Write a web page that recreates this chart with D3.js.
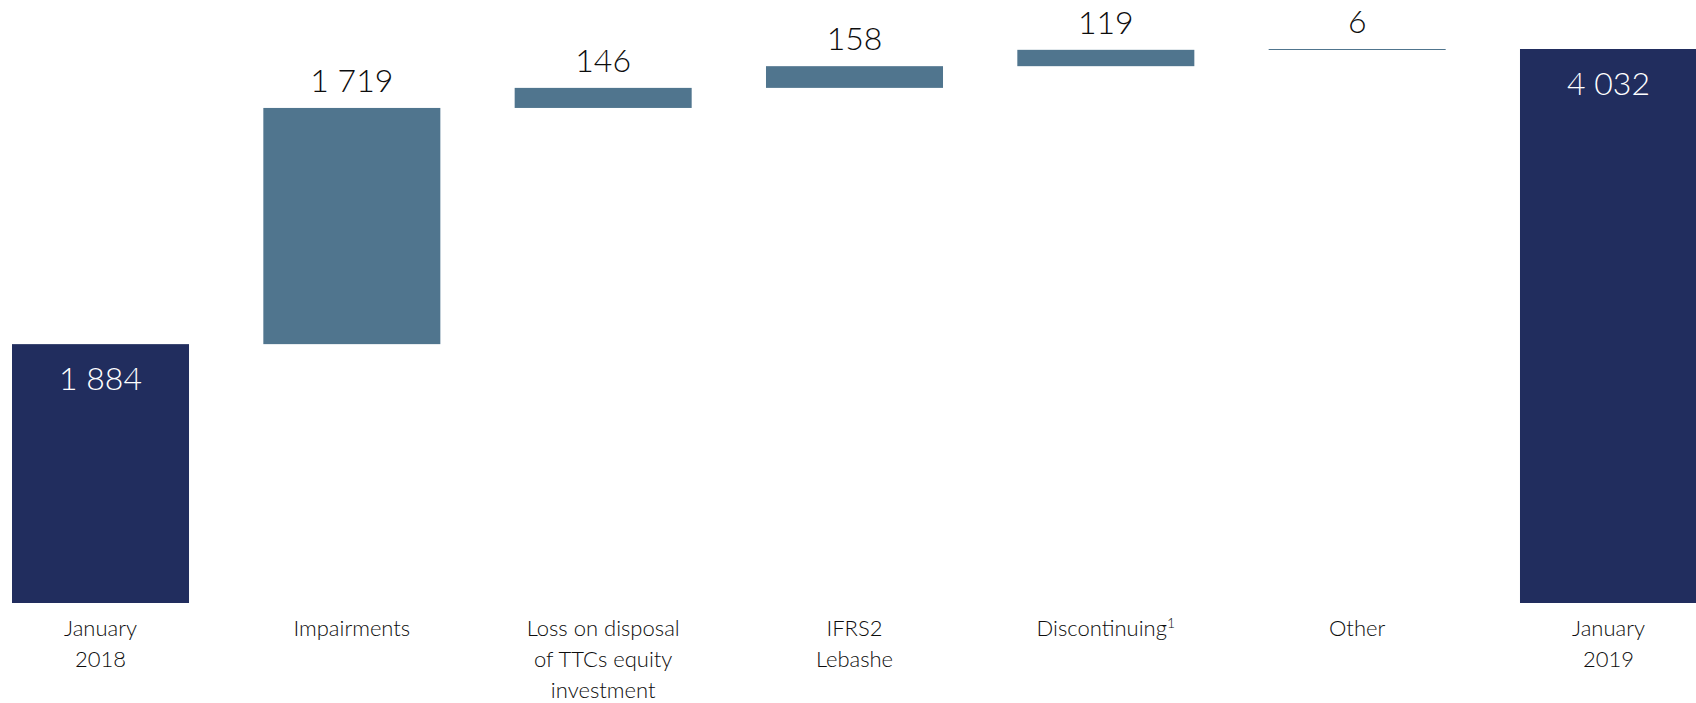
<!DOCTYPE html>
<html>
<head>
<meta charset="utf-8">
<script src="https://cdn.jsdelivr.net/npm/d3@7"></script>
<style>
  html, body { margin: 0; padding: 0; background: #fff; }
  svg { display: block; }
  text { font-family: Lato, "Open Sans", sans-serif; font-weight: 300; }
</style>
</head>
<body>
<svg id="chart" width="1696" height="703"></svg>
<script>
// ---- data ----
const categories = [
  ["January", "2018"],
  ["Impairments"],
  ["Loss on disposal", "of TTCs equity", "investment"],
  ["IFRS2", "Lebashe"],
  ["Discontinuing"],
  ["Other"],
  ["January", "2019"]
];
const footnotes = ["", "", "", "", "1", "", ""];
const values = [1884, 1719, 146, 158, 119, 6, 4032];
const kinds = ["total", "delta", "delta", "delta", "delta", "delta", "total"];
const valueLabels = ["1 884", "1 719", "146", "158", "119", "6", "4 032"];

// ---- build waterfall ----
let running = 0;
const rows = values.map((v, i) => {
  let y0, y1;
  if (kinds[i] === "total") { y0 = 0; y1 = v; running = v; }
  else { y0 = running; y1 = running + v; running = y1; }
  return { i, v, y0, y1, kind: kinds[i], cat: categories[i], fn: footnotes[i], label: valueLabels[i] };
});

const svg = d3.select("#chart");
const x = d3.scaleBand().domain(d3.range(values.length)).range([12, 1697]).paddingInner(0.2957).paddingOuter(0);
const y = d3.scaleLinear().domain([0, 4032]).range([603, 49]);

const navy = "#212D5E", steel = "#50758E";

svg.selectAll("rect.bar").data(rows).enter().append("rect")
  .attr("class", "bar")
  .attr("x", d => x(d.i))
  .attr("width", x.bandwidth())
  .attr("y", d => y(d.y1))
  .attr("height", d => Math.max(1, y(d.y0) - y(d.y1)))
  .attr("fill", d => d.kind === "total" ? navy : steel);

// value labels
svg.selectAll("text.val").data(rows).enter().append("text")
  .attr("class", "val")
  .attr("x", d => x(d.i) + x.bandwidth() / 2)
  .attr("y", d => d.kind === "total" ? y(d.y1) + 46 : y(d.y1) - 16)
  .attr("text-anchor", "middle")
  .attr("font-size", 32)
  .attr("fill", d => d.kind === "total" ? "#ffffff" : "#0d0d0d")
  .text(d => d.label);

// category labels
const cl = svg.selectAll("text.cat").data(rows).enter().append("text")
  .attr("class", "cat")
  .attr("text-anchor", "middle")
  .attr("font-size", 22)
  .attr("fill", "#0d0d0d");
cl.each(function(d) {
  const t = d3.select(this);
  const cx = x(d.i) + x.bandwidth() / 2;
  d.cat.forEach((line, k) => {
    t.append("tspan").attr("x", cx).attr("y", 636 + k * 31).text(line);
    if (k === d.cat.length - 1 && d.fn) {
      t.append("tspan").attr("dy", -8).attr("font-size", 14).text(d.fn);
    }
  });
});
</script>
</body>
</html>
